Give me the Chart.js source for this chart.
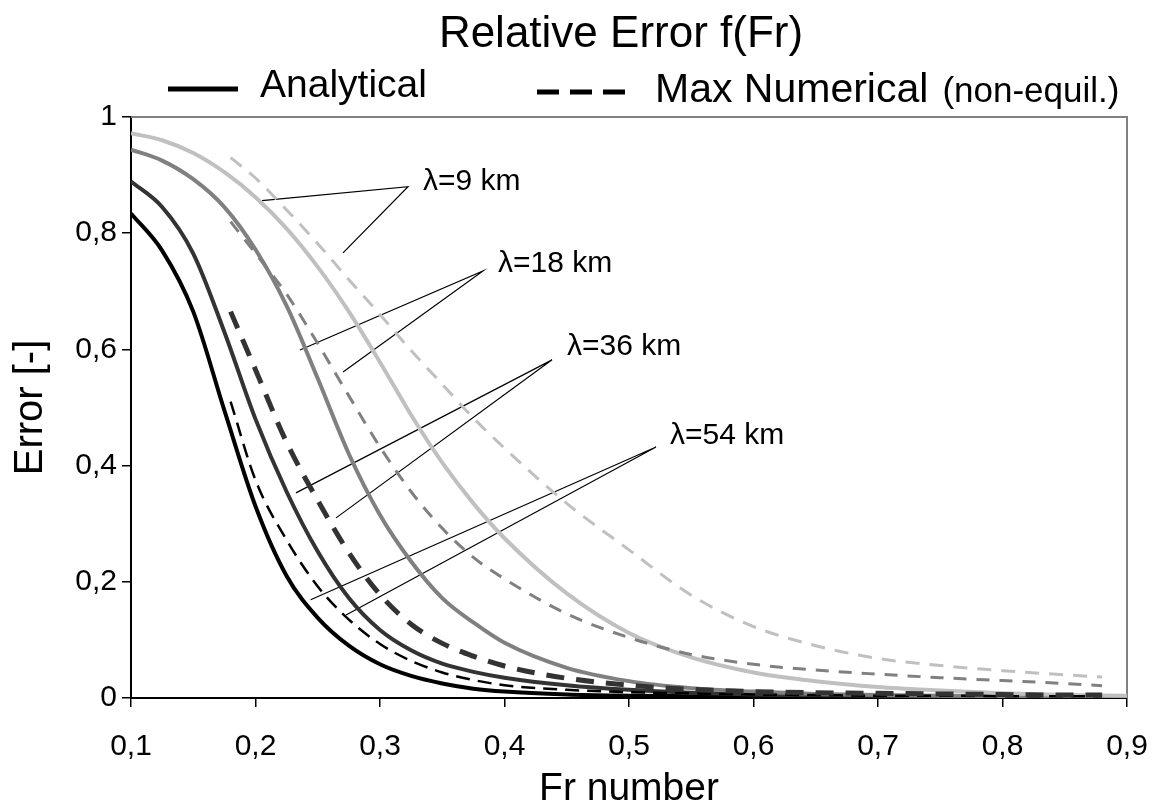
<!DOCTYPE html>
<html lang="en">
<head>
    <meta charset="UTF-8">
    <title>Relative Error f(Fr)</title>
    <script src="https://cdn.jsdelivr.net/npm/chart.js"></script>
    <style>
        html, body { margin: 0; padding: 0; background: #fff; }
        #wrap { width: 1152px; height: 809px; }
    </style>
</head>
<body>
    <div id="wrap"><canvas id="chart"></canvas></div>
    <script>
        // Fr values for the analytical curves
        const frAnalytical = [0.1, 0.125, 0.15, 0.175, 0.2, 0.225, 0.25, 0.275, 0.3, 0.325, 0.35, 0.375, 0.4, 0.45, 0.5, 0.55, 0.6, 0.65, 0.7, 0.75, 0.8, 0.85, 0.9];
        const anaL9  = [0.972, 0.960, 0.938, 0.905, 0.862, 0.808, 0.742, 0.665, 0.578, 0.487, 0.405, 0.335, 0.275, 0.180, 0.112, 0.070, 0.044, 0.029, 0.019, 0.013, 0.008, 0.005, 0.004];
        const anaL18 = [0.944, 0.925, 0.893, 0.845, 0.772, 0.675, 0.550, 0.420, 0.315, 0.235, 0.172, 0.130, 0.095, 0.052, 0.029, 0.017, 0.011, 0.007, 0.005, 0.004, 0.003, 0.002, 0.002];
        const anaL36 = [0.889, 0.845, 0.765, 0.630, 0.480, 0.355, 0.252, 0.172, 0.117, 0.082, 0.059, 0.045, 0.035, 0.022, 0.014, 0.009, 0.006, 0.005, 0.004, 0.003, 0.003, 0.002, 0.002];
        const anaL54 = [0.834, 0.770, 0.665, 0.495, 0.330, 0.210, 0.138, 0.090, 0.058, 0.038, 0.025, 0.016, 0.011, 0.006, 0.004, 0.003, 0.002, 0.002, 0.001, 0.001, 0.001, 0.001, 0.001];

        // Fr values for the max numerical curves (non-equil.)
        const frNumerical = [0.18, 0.2, 0.225, 0.25, 0.275, 0.3, 0.325, 0.35, 0.375, 0.4, 0.45, 0.5, 0.55, 0.6, 0.65, 0.7, 0.75, 0.8, 0.85, 0.88];
        const numL9  = [0.930, 0.895, 0.840, 0.782, 0.720, 0.660, 0.598, 0.540, 0.482, 0.430, 0.335, 0.255, 0.177, 0.123, 0.090, 0.068, 0.056, 0.047, 0.040, 0.036];
        const numL18 = [0.820, 0.765, 0.695, 0.610, 0.520, 0.432, 0.355, 0.292, 0.242, 0.205, 0.145, 0.104, 0.075, 0.058, 0.048, 0.041, 0.035, 0.030, 0.025, 0.021];
        const numL36 = [0.665, 0.565, 0.440, 0.340, 0.250, 0.178, 0.127, 0.094, 0.072, 0.055, 0.034, 0.022, 0.015, 0.011, 0.009, 0.008, 0.007, 0.006, 0.005, 0.005];
        const numL54 = [0.510, 0.375, 0.272, 0.192, 0.135, 0.093, 0.064, 0.044, 0.031, 0.022, 0.014, 0.010, 0.008, 0.006, 0.005, 0.004, 0.004, 0.003, 0.003, 0.003];

        // lambda labels and their leader lines (data coordinates)
        const lambdaLabels = ['λ=9 km', 'λ=18 km', 'λ=36 km', 'λ=54 km'];
        const labelX = [0.3345, 0.3948, 0.4502, 0.533];
        const labelY = [0.888, 0.747, 0.604, 0.451];
        const leaderVertexX = [0.3225, 0.3827, 0.4382, 0.5217];
        const leaderVertexY = [0.880, 0.735, 0.582, 0.432];
        const leaderSolidX = [0.2052, 0.2357, 0.2325, 0.2443];
        const leaderSolidY = [0.856, 0.599, 0.353, 0.169];
        const leaderDashX = [0.2703, 0.2703, 0.2647, 0.2727];
        const leaderDashY = [0.766, 0.561, 0.310, 0.143];

        const fontFamily = "'Liberation Sans', Arial, sans-serif";
        Chart.defaults.font.family = fontFamily;
        Chart.defaults.color = '#000';

        const toPoints = (xs, ys) => xs.map((x, i) => ({ x: x, y: ys[i] }));
        const comma = v => Number(v.toFixed(1)).toString().replace('.', ',');

        function curve(xs, ys, color, width, dash) {
            return {
                data: toPoints(xs, ys),
                borderColor: color,
                borderWidth: width,
                borderDash: dash || [],
                pointRadius: 0,
                fill: false,
                cubicInterpolationMode: 'monotone'
            };
        }

        const datasets = [
            curve(frNumerical, numL9, '#c0c0c0', 3, [14, 10]),
            curve(frNumerical, numL18, '#808080', 3, [13, 10]),
            curve(frNumerical, numL36, '#333333', 5, [18, 12]),
            curve(frNumerical, numL54, '#000000', 2.5, [14, 8]),
            curve(frAnalytical, anaL9, '#c0c0c0', 4),
            curve(frAnalytical, anaL18, '#808080', 4),
            curve(frAnalytical, anaL36, '#333333', 4),
            curve(frAnalytical, anaL54, '#000000', 4)
        ];

        lambdaLabels.forEach((lbl, i) => {
            datasets.push({
                data: [
                    { x: leaderSolidX[i], y: leaderSolidY[i] },
                    { x: leaderVertexX[i], y: leaderVertexY[i] },
                    { x: leaderDashX[i], y: leaderDashY[i] }
                ],
                borderColor: '#000',
                borderWidth: 1.2,
                pointRadius: 0,
                tension: 0,
                fill: false
            });
        });

        // grey frame on top and right of the plot area
        const frame = {
            id: 'frame',
            beforeDatasetsDraw(chart) {
                const { left, right, top, bottom } = chart.chartArea;
                const ctx = chart.ctx;
                ctx.save();
                ctx.strokeStyle = '#808080';
                ctx.lineWidth = 2;
                ctx.beginPath();
                ctx.moveTo(left, top);
                ctx.lineTo(right, top);
                ctx.lineTo(right, bottom);
                ctx.stroke();
                ctx.restore();
            }
        };

        // title, legend and lambda labels
        const texts = {
            id: 'texts',
            afterDraw(chart) {
                const ctx = chart.ctx;
                const xs = chart.scales.x, ys = chart.scales.y;
                ctx.save();
                ctx.fillStyle = '#000';
                ctx.textBaseline = 'alphabetic';

                ctx.font = '44px ' + fontFamily;
                ctx.textAlign = 'center';
                ctx.fillText('Relative Error f(Fr)', 621, 47);

                ctx.textAlign = 'left';
                ctx.strokeStyle = '#000';
                ctx.lineWidth = 5;
                ctx.beginPath();
                ctx.moveTo(168, 89);
                ctx.lineTo(238, 89);
                ctx.stroke();
                ctx.setLineDash([22, 11]);
                ctx.beginPath();
                ctx.moveTo(537, 92);
                ctx.lineTo(626, 92);
                ctx.stroke();
                ctx.setLineDash([]);

                ctx.font = '39px ' + fontFamily;
                ctx.fillText('Analytical', 260, 97);
                ctx.font = '41px ' + fontFamily;
                ctx.fillText('Max Numerical', 655, 102);
                const w = ctx.measureText('Max Numerical').width;
                ctx.font = '35px ' + fontFamily;
                ctx.fillText('(non-equil.)', 655 + w + 14, 102);

                ctx.font = '30px ' + fontFamily;
                ctx.textBaseline = 'middle';
                lambdaLabels.forEach((lbl, i) => {
                    ctx.fillText(lbl, xs.getPixelForValue(labelX[i]), ys.getPixelForValue(labelY[i]));
                });
                ctx.restore();
            }
        };

        new Chart(document.getElementById('chart'), {
            type: 'line',
            data: { datasets: datasets },
            plugins: [frame, texts],
            options: {
                responsive: true,
                maintainAspectRatio: false,
                animation: false,
                layout: { padding: { top: 117, right: 25, bottom: 0, left: 0 } },
                plugins: {
                    legend: { display: false },
                    tooltip: { enabled: false }
                },
                scales: {
                    x: {
                        type: 'linear',
                        min: 0.1,
                        max: 0.9,
                        afterFit: s => { s.height = 111; s.paddingLeft = 0; s.paddingRight = 0; },
                        ticks: { stepSize: 0.1, padding: 22, font: { size: 30 }, callback: v => comma(v) },
                        grid: { drawOnChartArea: false, drawTicks: true, tickLength: 9, color: '#000', lineWidth: 1.5 },
                        border: { color: '#000', width: 2 },
                        title: { display: true, text: 'Fr number', font: { size: 39, lineHeight: 1 }, padding: { top: 0, bottom: 0 } }
                    },
                    y: {
                        min: 0,
                        max: 1,
                        afterFit: s => { s.width = 131; s.paddingTop = 0; s.paddingBottom = 0; },
                        ticks: { stepSize: 0.2, padding: 5, font: { size: 30 }, callback: v => comma(v) },
                        grid: { drawOnChartArea: false, drawTicks: true, tickLength: 9, color: '#000', lineWidth: 1.5 },
                        border: { color: '#000', width: 2 },
                        title: { display: true, text: 'Error [-]', font: { size: 40, lineHeight: 1 }, padding: { top: 11, bottom: 0 } }
                    }
                }
            }
        });
    </script>
</body>
</html>
